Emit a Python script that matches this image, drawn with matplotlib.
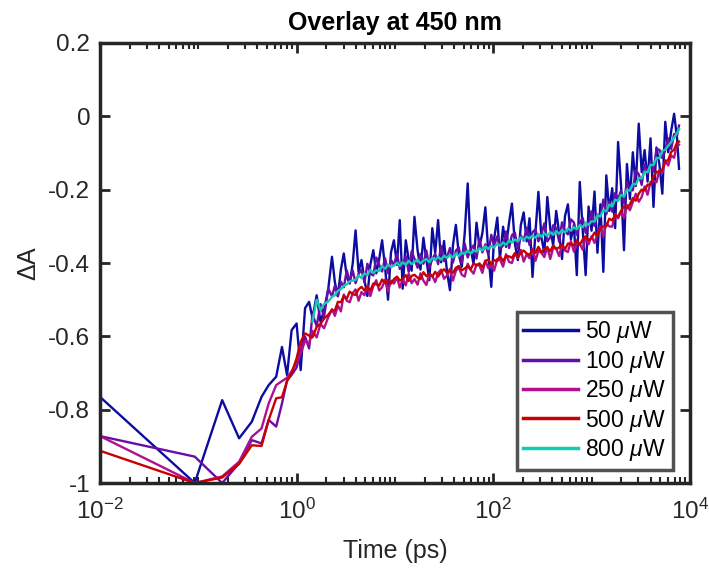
import numpy as np
import matplotlib.pyplot as plt
from matplotlib.ticker import LogLocator, NullFormatter, FixedLocator, FixedFormatter

plt.rcParams['font.family'] = ['Liberation Sans', 'DejaVu Sans']
plt.rcParams['axes.unicode_minus'] = False
plt.rcParams['mathtext.fontset'] = 'custom'
plt.rcParams['mathtext.rm'] = 'Liberation Sans'
plt.rcParams['mathtext.it'] = 'Liberation Sans:italic'

# time grid (ps)
time_ps = [0.01, 0.092, 0.175, 0.26, 0.35, 0.44, 0.52, 0.62, 0.71, 0.80,
           0.89, 1.0, 1.1, 1.22, 1.34, 1.45, 1.6, 1.75, 1.9, 2.1,
           2.29, 2.45, 2.63, 2.82, 3.02, 3.24, 3.47, 3.72, 3.98, 4.27,
           4.57, 4.90, 5.25, 5.62, 6.03, 6.46, 6.92, 7.41, 7.94, 8.51,
           9.12, 9.77, 10.5, 11.2, 12.0, 12.9, 13.8, 14.8, 15.8, 17.0,
           18.2, 19.5, 20.9, 22.4, 24.0, 25.7, 27.5, 29.5, 31.6, 33.9,
           36.3, 38.9, 41.7, 44.7, 47.9, 51.3, 55.0, 58.9, 63.1, 67.6,
           72.4, 77.6, 83.2, 89.1, 95.5, 102, 110, 117, 126, 135,
           145, 155, 166, 178, 191, 204, 219, 234, 251, 269,
           288, 309, 331, 355, 380, 407, 437, 468, 501, 537,
           575, 617, 661, 708, 759, 813, 871, 933, 1000, 1072,
           1148, 1230, 1318, 1413, 1514, 1622, 1738, 1862, 1995, 2138,
           2291, 2455, 2630, 2818, 3020, 3236, 3467, 3715, 3981, 4266,
           4571, 4898, 5248, 5623, 6026, 6457, 6918, 7413, 7762]

dA_50 = [-0.765, -1.000, -0.774, -0.878, -0.833, -0.765, -0.733, -0.710, -0.629, -0.706,
         -0.583, -0.565, -0.692, -0.523, -0.506, -0.550, -0.488, -0.560, -0.530, -0.470,
         -0.383, -0.452, -0.490, -0.418, -0.374, -0.438, -0.456, -0.402, -0.311, -0.425,
         -0.392, -0.447, -0.490, -0.405, -0.365, -0.428, -0.389, -0.338, -0.412, -0.500,
         -0.371, -0.338, -0.405, -0.283, -0.470, -0.338, -0.392, -0.421, -0.274, -0.365,
         -0.418, -0.331, -0.392, -0.447, -0.305, -0.372, -0.283, -0.398, -0.340, -0.425,
         -0.474, -0.352, -0.296, -0.378, -0.410, -0.318, -0.183, -0.362, -0.402, -0.290,
         -0.355, -0.318, -0.248, -0.372, -0.465, -0.335, -0.276, -0.388, -0.301, -0.356,
         -0.289, -0.238, -0.347, -0.392, -0.296, -0.262, -0.341, -0.278, -0.438, -0.315,
         -0.206, -0.330, -0.372, -0.220, -0.305, -0.352, -0.258, -0.318, -0.389, -0.272,
         -0.240, -0.335, -0.296, -0.433, -0.179, -0.310, -0.433, -0.246, -0.312, -0.205,
         -0.372, -0.240, -0.424, -0.161, -0.258, -0.196, -0.305, -0.070, -0.188, -0.365,
         -0.130, -0.225, -0.098, -0.190, -0.020, -0.152, -0.092, -0.178, -0.060, -0.247,
         -0.085, -0.130, -0.211, -0.015, -0.098, -0.040, 0.007, -0.060, -0.143]

dA_100 = [-0.872, -0.928, -1.000, -0.946, -0.883, -0.892, -0.828, -0.846, -0.783, -0.720,
          -0.705, -0.685, -0.638, -0.601, -0.633, -0.540, -0.572, -0.512, -0.548, -0.470,
          -0.491, -0.462, -0.491, -0.451, -0.466, -0.420, -0.452, -0.420, -0.455, -0.430,
          -0.418, -0.453, -0.402, -0.429, -0.434, -0.385, -0.405, -0.423, -0.387, -0.428,
          -0.391, -0.406, -0.375, -0.416, -0.405, -0.381, -0.424, -0.368, -0.388, -0.413,
          -0.375, -0.402, -0.366, -0.413, -0.389, -0.375, -0.403, -0.354, -0.395, -0.384,
          -0.359, -0.399, -0.366, -0.358, -0.400, -0.347, -0.385, -0.363, -0.352, -0.388,
          -0.335, -0.371, -0.349, -0.377, -0.323, -0.352, -0.327, -0.362, -0.352, -0.314,
          -0.359, -0.324, -0.317, -0.360, -0.325, -0.339, -0.304, -0.351, -0.316, -0.308,
          -0.341, -0.322, -0.292, -0.341, -0.330, -0.297, -0.304, -0.342, -0.289, -0.314,
          -0.322, -0.281, -0.289, -0.323, -0.291, -0.277, -0.318, -0.296, -0.259, -0.299,
          -0.268, -0.276, -0.227, -0.267, -0.233, -0.260, -0.209, -0.225, -0.203, -0.238,
          -0.179, -0.200, -0.202, -0.147, -0.158, -0.187, -0.131, -0.157, -0.128, -0.151,
          -0.090, -0.091, -0.114, -0.092, -0.060, -0.089, -0.048, -0.053, -0.025]

dA_250 = [-0.872, -1.000, -0.982, -0.942, -0.874, -0.851, -0.783, -0.733, -0.722, -0.713,
          -0.695, -0.672, -0.647, -0.612, -0.621, -0.585, -0.603, -0.566, -0.578, -0.548,
          -0.526, -0.544, -0.516, -0.532, -0.486, -0.503, -0.507, -0.482, -0.472, -0.503,
          -0.479, -0.488, -0.462, -0.490, -0.463, -0.447, -0.475, -0.466, -0.445, -0.477,
          -0.448, -0.456, -0.439, -0.467, -0.444, -0.461, -0.429, -0.455, -0.444, -0.459,
          -0.428, -0.448, -0.460, -0.429, -0.435, -0.452, -0.427, -0.418, -0.443, -0.434,
          -0.416, -0.448, -0.421, -0.413, -0.432, -0.437, -0.402, -0.419, -0.429, -0.404,
          -0.407, -0.427, -0.393, -0.414, -0.402, -0.421, -0.389, -0.390, -0.410, -0.376,
          -0.397, -0.400, -0.374, -0.386, -0.364, -0.396, -0.376, -0.387, -0.361, -0.394,
          -0.367, -0.372, -0.384, -0.356, -0.389, -0.359, -0.361, -0.381, -0.351, -0.366,
          -0.370, -0.340, -0.369, -0.347, -0.348, -0.364, -0.329, -0.349, -0.327, -0.345,
          -0.321, -0.300, -0.328, -0.292, -0.300, -0.301, -0.266, -0.278, -0.260, -0.277,
          -0.242, -0.256, -0.234, -0.211, -0.233, -0.220, -0.191, -0.214, -0.179, -0.176,
          -0.180, -0.146, -0.154, -0.120, -0.134, -0.107, -0.113, -0.074, -0.077]

dA_500 = [-0.912, -1.000, -0.985, -0.948, -0.897, -0.899, -0.828, -0.769, -0.766, -0.722,
          -0.700, -0.660, -0.615, -0.592, -0.598, -0.603, -0.574, -0.566, -0.552, -0.541,
          -0.528, -0.530, -0.506, -0.507, -0.490, -0.497, -0.478, -0.485, -0.487, -0.472,
          -0.465, -0.475, -0.465, -0.475, -0.456, -0.458, -0.462, -0.445, -0.455, -0.446,
          -0.456, -0.444, -0.437, -0.448, -0.443, -0.433, -0.449, -0.435, -0.432, -0.440,
          -0.444, -0.425, -0.436, -0.429, -0.437, -0.424, -0.437, -0.425, -0.417, -0.427,
          -0.420, -0.427, -0.413, -0.408, -0.420, -0.415, -0.408, -0.418, -0.401, -0.407,
          -0.401, -0.412, -0.395, -0.391, -0.403, -0.392, -0.395, -0.381, -0.395, -0.381,
          -0.382, -0.386, -0.373, -0.385, -0.372, -0.366, -0.374, -0.378, -0.364, -0.372,
          -0.356, -0.371, -0.362, -0.358, -0.368, -0.352, -0.361, -0.358, -0.349, -0.363,
          -0.347, -0.348, -0.352, -0.338, -0.350, -0.336, -0.327, -0.338, -0.332, -0.317,
          -0.326, -0.305, -0.300, -0.300, -0.279, -0.284, -0.269, -0.274, -0.258, -0.245,
          -0.251, -0.240, -0.223, -0.230, -0.211, -0.200, -0.202, -0.186, -0.187, -0.165,
          -0.151, -0.152, -0.145, -0.123, -0.119, -0.097, -0.091, -0.071, -0.069]

# 800 uW starts at 1.45 ps
dA_800 = [-0.560, -0.500, -0.528, -0.512, -0.505,
          -0.492, -0.488, -0.476, -0.471, -0.462, -0.458, -0.450, -0.448, -0.446, -0.434,
          -0.441, -0.428, -0.433, -0.419, -0.427, -0.420, -0.422, -0.408, -0.416, -0.404,
          -0.411, -0.407, -0.399, -0.408, -0.398, -0.405, -0.394, -0.403, -0.397, -0.391,
          -0.401, -0.393, -0.389, -0.398, -0.386, -0.392, -0.383, -0.391, -0.380, -0.386,
          -0.378, -0.385, -0.374, -0.381, -0.371, -0.376, -0.366, -0.374, -0.365, -0.369,
          -0.360, -0.366, -0.354, -0.362, -0.353, -0.358, -0.347, -0.353, -0.344, -0.350,
          -0.339, -0.344, -0.336, -0.341, -0.330, -0.337, -0.328, -0.333, -0.325, -0.331,
          -0.321, -0.328, -0.319, -0.326, -0.316, -0.323, -0.313, -0.320, -0.310, -0.317,
          -0.306, -0.312, -0.302, -0.308, -0.297, -0.302, -0.290, -0.296, -0.286, -0.287,
          -0.270, -0.273, -0.255, -0.259, -0.241, -0.246, -0.227, -0.231, -0.214, -0.219,
          -0.200, -0.203, -0.184, -0.186, -0.168, -0.170, -0.151, -0.152, -0.132, -0.133,
          -0.113, -0.114, -0.094, -0.091, -0.080, -0.070, -0.058, -0.045, -0.034]

labels = [r'50 $\mu$W', r'100 $\mu$W', r'250 $\mu$W', r'500 $\mu$W', r'800 $\mu$W']
colors = ['#0c0ca0', '#6a0ca8', '#b0108f', '#c80000', '#12ccb2']

fig = plt.figure(figsize=(7.09, 5.68), dpi=100)
ax = fig.add_axes([0.141, 0.1496, 0.832, 0.7747])

t = np.array(time_ps)
series = [dA_50, dA_100, dA_250, dA_500, dA_800]
for vals, lab, c in zip(series, labels, colors):
    vals = np.array(vals)
    ax.plot(t[len(t) - len(vals):], vals, color=c, lw=1.7, label=lab)

ax.set_xscale('log')
ax.set_xlim(1e-2, 1e4)
ax.set_ylim(-1, 0.2)

ax.xaxis.set_major_locator(FixedLocator([1e-2, 1e0, 1e2, 1e4]))
ax.xaxis.set_major_formatter(FixedFormatter([r'$10^{-2}$', r'$10^{0}$', r'$10^{2}$', r'$10^{4}$']))
ax.xaxis.set_minor_locator(LogLocator(base=10, subs=np.arange(1, 10), numticks=50))
ax.xaxis.set_minor_formatter(NullFormatter())
yt = [-1, -0.8, -0.6, -0.4, -0.2, 0, 0.2]
ax.set_yticks(yt)
ax.set_yticklabels(['-1', '-0.8', '-0.6', '-0.4', '-0.2', '0', '0.2'])

ax.tick_params(which='both', direction='in', top=True, right=True, labelsize=17.5,
               color='#262626', labelcolor='#262626')
ax.tick_params(which='major', length=7, width=2)
ax.tick_params(which='minor', length=4, width=1.5)
ax.tick_params(axis='x', which='major', pad=11)
ax.tick_params(axis='y', which='major', pad=7)
for s in ax.spines.values():
    s.set_linewidth(2.5)
    s.set_color('#262626')

ax.set_xlabel('Time (ps)', fontsize=18, color='#262626', labelpad=11)
ax.set_ylabel(r'$\Delta$A', fontsize=18, color='#262626', labelpad=5)
ax.set_title('Overlay at 450 nm', fontsize=18, fontweight='bold', pad=9)

leg = ax.legend(loc='lower right', bbox_to_anchor=(0.971, 0.03), fontsize=16.5,
                frameon=True, fancybox=False, handlelength=2.4, handletextpad=0.3,
                labelspacing=0.15, borderpad=0.3, borderaxespad=0.0)
leg.get_frame().set_edgecolor('#262626')
leg.get_frame().set_linewidth(2.5)
for line in leg.get_lines():
    line.set_linewidth(2.5)

fig.savefig('out.png', dpi=100)
